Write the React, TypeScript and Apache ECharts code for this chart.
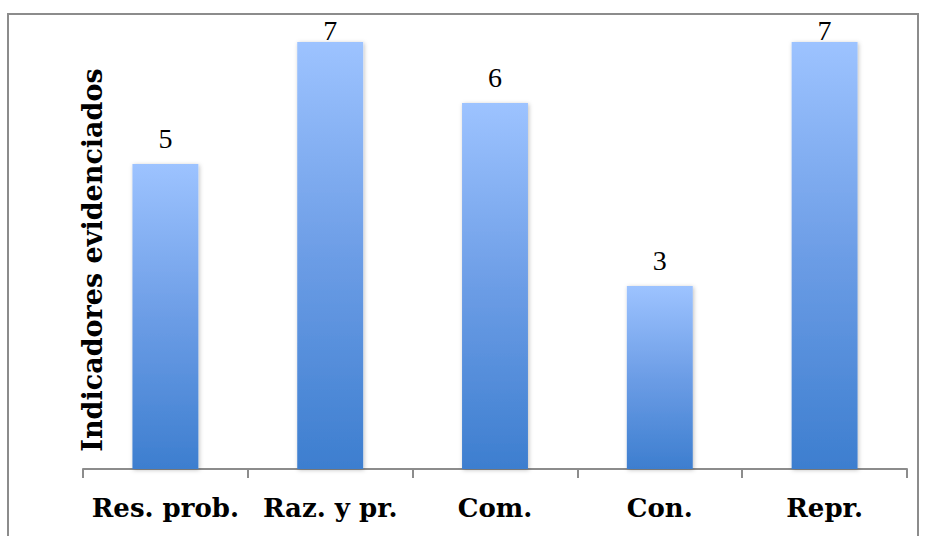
import React, { useEffect, useRef } from "react";
import * as echarts from "echarts";

const categories = ["Res. prob.", "Raz. y pr.", "Com.", "Con.", "Repr."];
const values = [5, 7, 6, 3, 7];
const yAxisTitle = "Indicadores evidenciados";
const yMax = 7;

export default function App() {
  const ref = useRef<HTMLDivElement>(null);
  useEffect(() => {
    if (!ref.current) return;
    const chart = echarts.init(ref.current, undefined, { renderer: "svg" });
    const gradient = new echarts.graphic.LinearGradient(0, 0, 0, 1, [
      { offset: 0, color: "#9dc3ff" },
      { offset: 0.5, color: "#6c9de6" },
      { offset: 1, color: "#3d7ecf" },
    ]);
    chart.setOption({
      animation: false,
      backgroundColor: "#ffffff",
      grid: { left: 83, right: 18, top: 42, bottom: 67 },
      xAxis: {
        type: "category",
        data: categories,
        boundaryGap: true,
        axisLine: { show: true, lineStyle: { color: "#8c8c8c", width: 2 } },
        axisTick: {
          show: true,
          interval: 0,
          alignWithLabel: false,
          length: 9,
          lineStyle: { color: "#8c8c8c", width: 2 },
        },
        axisLabel: {
          interval: 0,
          color: "#000",
          fontFamily: "DejaVu Serif",
          fontWeight: "bold",
          fontSize: 26,
          margin: 26,
        },
      },
      yAxis: {
        type: "value",
        min: 0,
        max: yMax,
        show: false,
      },
      series: [
        {
          type: "bar",
          barWidth: "40%",
          data: values.map((v) => ({
            value: v,
            label: v >= yMax ? { offset: [0, 14] } : undefined,
          })),
          itemStyle: {
            color: gradient,
            shadowBlur: 4,
            shadowColor: "rgba(0,0,0,0.25)",
            shadowOffsetX: 1,
            shadowOffsetY: 1,
          },
          label: {
            show: true,
            position: "top",
            distance: 12,
            color: "#000",
            fontFamily: "Liberation Serif",
            fontSize: 28,
          },
        },
      ],
      graphic: [
        {
          type: "rect",
          shape: { x: 8, y: 14, width: 910, height: 540 },
          style: { fill: "none", stroke: "#8c8c8c", lineWidth: 2 },
          z: 10,
        },
        {
          type: "text",
          x: 92,
          y: 260,
          rotation: Math.PI / 2,
          style: {
            text: yAxisTitle,
            fontFamily: "DejaVu Serif",
            fontWeight: "bold",
            fontSize: 27,
            fill: "#000",
            align: "center",
            verticalAlign: "middle",
          },
        },
      ],
    });
    return () => chart.dispose();
  }, []);
  return (
    <div
      ref={ref}
      style={{ position: "fixed", left: 0, top: 0, width: 925, height: 536 }}
    />
  );
}
